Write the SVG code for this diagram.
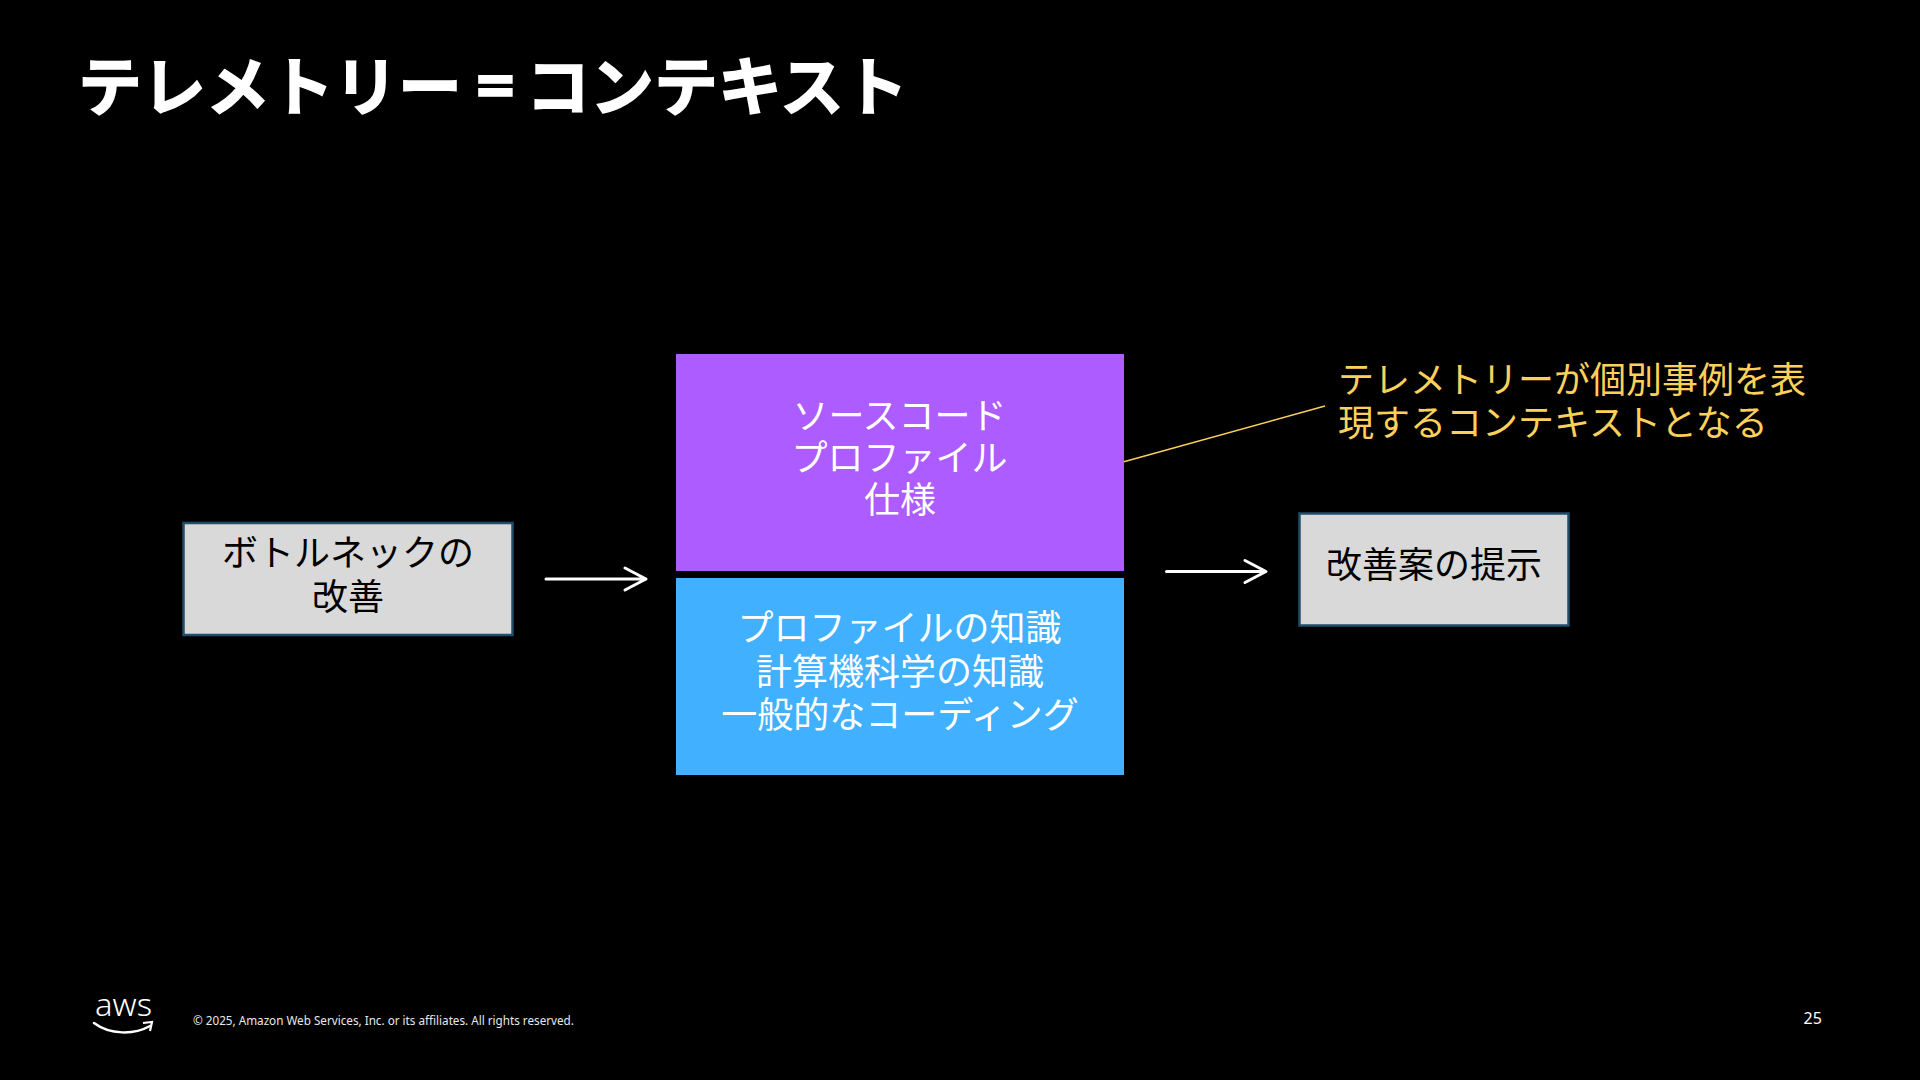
<svg xmlns="http://www.w3.org/2000/svg" width="1920" height="1080" viewBox="0 0 1920 1080">
<defs>
<style>
text{font-family:"Noto Sans CJK JP","Noto Sans",sans-serif;}
.m{font-size:36px;text-anchor:middle;}
.w{fill:#fff;}
.k{fill:#000;}
.y{fill:#fbd15b;}
.gb{fill:#d9d9d9;stroke:#1f4e6b;stroke-width:2.5;}
.ar{fill:none;stroke:#fff;stroke-width:3;stroke-linecap:round;stroke-linejoin:round;}
.t{font-size:64px;font-weight:700;stroke:#fff;stroke-width:1.4px;}
.f{font-family:"Noto Sans",sans-serif;}
</style>
</defs>
<rect id="background" width="1920" height="1080" fill="#000"/>
<text id="title" y="110" class="t w"><tspan x="78">テレメトリー</tspan><tspan x="476" class="f" font-size="68">=</tspan><tspan x="526">コンテキスト</tspan></text>
<g id="connectors">
<path class="ar" d="M546 579H646M625 568L646 579L625 590"/>
<path class="ar" d="M1166.500 571.500H1266M1245 560.500L1266 571.500L1245 582.500"/>
<line x1="1123" y1="462" x2="1325" y2="406" stroke="#fbd15b" stroke-width="1.5"/>
</g>
<g id="node-bottleneck">
<rect class="gb" x="183.500" y="523" width="329" height="112"/>
<text class="m k" x="348" y="566">ボトルネックの</text>
<text class="m k" x="348" y="610">改善</text>
</g>
<g id="node-source">
<rect x="676" y="354" width="448" height="217" fill="#ad5cff"/>
<text class="m w" x="899.500" y="429">ソースコード</text>
<text class="m w" x="899.500" y="471">プロファイル</text>
<text class="m w" x="900" y="513">仕様</text>
</g>
<g id="node-knowledge">
<rect x="676" y="578" width="448" height="197" fill="#40b0ff"/>
<text class="m w" x="899.500" y="641">プロファイルの知識</text>
<text class="m w" x="900" y="685">計算機科学の知識</text>
<text class="m w" x="900" y="728">一般的なコーディング</text>
</g>
<g id="node-proposal">
<rect class="gb" x="1299.500" y="513.500" width="269" height="112"/>
<text class="m k" x="1434" y="578">改善案の提示</text>
</g>
<g id="annotation">
<text x="1338" y="393" font-size="36" class="y">テレメトリーが個別事例を表</text>
<text x="1338" y="436" font-size="36" class="y">現するコンテキストとなる</text>
</g>
<g id="footer">
<text x="95" y="1016" font-size="32" font-weight="300" class="w f" textLength="57" lengthAdjust="spacingAndGlyphs">aws</text>
<path d="M94 1023C110 1035 134 1035 150 1026" fill="none" stroke="#fff" stroke-width="2.500" stroke-linecap="round"/>
<path d="M143 1023L152 1022L150 1031" fill="none" stroke="#fff" stroke-width="2.200"/>
<text x="193" y="1025" font-size="11.700" fill="#e8e8e8" class="f">© 2025, Amazon Web Services, Inc. or its affiliates. All rights reserved.</text>
<text x="1803.500" y="1024" font-size="16" class="w f">25</text>
</g>
</svg>
